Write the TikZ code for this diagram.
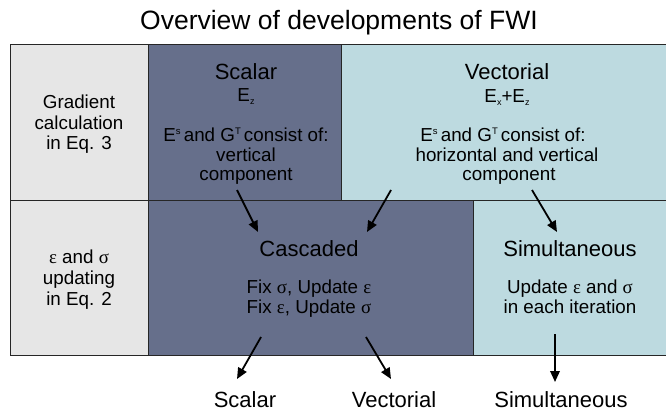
\documentclass[tikz,border=0pt]{standalone}
\usepackage{fontspec}
\setmainfont{Liberation Sans}
\newfontfamily\grk{Liberation Serif}
\usetikzlibrary{arrows.meta}
\definecolor{cellgray}{HTML}{E6E6E6}
\definecolor{slate}{HTML}{666F8B}
\definecolor{lblue}{HTML}{BDDAE0}
\newcommand{\mysub}[1]{\raisebox{-2.5pt}{\fontsize{9}{9}\selectfont #1}}
\newcommand{\mysup}[1]{\raisebox{7pt}{\fontsize{9.5}{9.5}\selectfont #1}\,}
\newcommand{\myeps}{{\grk ε}}
\newcommand{\mysig}{{\grk σ}}
\begin{document}
\begin{tikzpicture}[x=1pt,y=-1pt,
  titletxt/.style={font=\fontsize{26.5}{28}\selectfont, anchor=base, inner sep=0},
  headtxt/.style={font=\fontsize{22}{23}\selectfont, anchor=base, inner sep=0},
  bodytxt/.style={font=\fontsize{18.8}{20}\selectfont, anchor=base, inner sep=0},
  gridline/.style={line width=1pt, draw=black!85},
  arr/.style={line width=1.8pt, -{Triangle[length=11pt,width=9.5pt]}}]
\useasboundingbox (0,0) rectangle (666,414);
% cells
\fill[cellgray] (10,44.5) rectangle (148,355);
\fill[slate] (148,44.5) rectangle (341,200);
\fill[lblue] (341,44.5) rectangle (666,200);
\fill[slate] (148,200) rectangle (473,355);
\fill[lblue] (473,200) rectangle (666,355);
% grid
\draw[gridline] (10,44.5) -- (666,44.5);
\draw[gridline] (10,355) -- (666,355);
\draw[gridline] (10,200) -- (666,200);
\draw[gridline] (10,44.5) -- (10,355);
\draw[gridline] (148,44.5) -- (148,355);
\draw[gridline] (341,44.5) -- (341,200);
\draw[gridline] (473,200) -- (473,355);
% title
\node[titletxt] (title) at (339,29.3) {Overview of developments of FWI};
% left column
\node[bodytxt] (g1) at (79,109) {Gradient};
\node[bodytxt] (g2) at (79,129.5) {calculation};
\node[bodytxt] (g3) at (79,150) {in Eq. 3};
\node[bodytxt] (u1) at (79,263) {\myeps{} and \mysig};
\node[bodytxt] (u2) at (79,284) {updating};
\node[bodytxt] (u3) at (79,305) {in Eq. 2};
% scalar
\node[headtxt] (sh) at (246,80) {Scalar};
\node[bodytxt] (se) at (246,102) {E\mysub{z}};
\node[bodytxt] (s1) at (246,142) {E\mysup{s}and G\mysup{T}consist of:};
\node[bodytxt] (s2) at (246,161.5) {vertical};
\node[bodytxt] (s3) at (246,181) {component};
% vectorial
\node[headtxt] (vh) at (507,79.3) {Vectorial};
\node[bodytxt] (ve) at (507,103) {E\mysub{x}+E\mysub{z}};
\node[bodytxt] (v1) at (503,142) {E\mysup{s}and G\mysup{T}consist of:};
\node[bodytxt] (v2) at (507,162) {horizontal and vertical};
\node[bodytxt] (v3) at (509,181) {component};
% cascaded
\node[headtxt] (ch) at (309,256.7) {Cascaded};
\node[bodytxt] (c1) at (309,293.3) {Fix \mysig, Update \myeps};
\node[bodytxt] (c2) at (309,313.3) {Fix \myeps, Update \mysig};
% simultaneous
\node[headtxt] (mh) at (570,256) {Simultaneous};
\node[bodytxt] (m1) at (570,293) {Update \myeps{} and \mysig};
\node[bodytxt] (m2) at (570,313) {in each iteration};
% bottom labels
\node[headtxt] (bs) at (245,407) {Scalar};
\node[headtxt] (bv) at (394,407) {Vectorial};
\node[headtxt] (bm) at (561,407) {Simultaneous};
% arrow ends
\coordinate (a1s) at (237,190); \coordinate (a1e) at (258,232);
\coordinate (a2s) at (391,190); \coordinate (a2e) at (367,232);
\coordinate (a3s) at (532,190); \coordinate (a3e) at (557,232);
\coordinate (a4s) at (261,337); \coordinate (a4e) at (237,379);
\coordinate (a5s) at (366,337); \coordinate (a5e) at (391,379);
\coordinate (a6s) at (555,334); \coordinate (a6e) at (555,382);
\draw[arr] (a1s) -- (a1e);
\draw[arr] (a2s) -- (a2e);
\draw[arr] (a3s) -- (a3e);
\draw[arr] (a4s) -- (a4e);
\draw[arr] (a5s) -- (a5e);
\draw[arr] (a6s) -- (a6e);
\end{tikzpicture}
\end{document}
